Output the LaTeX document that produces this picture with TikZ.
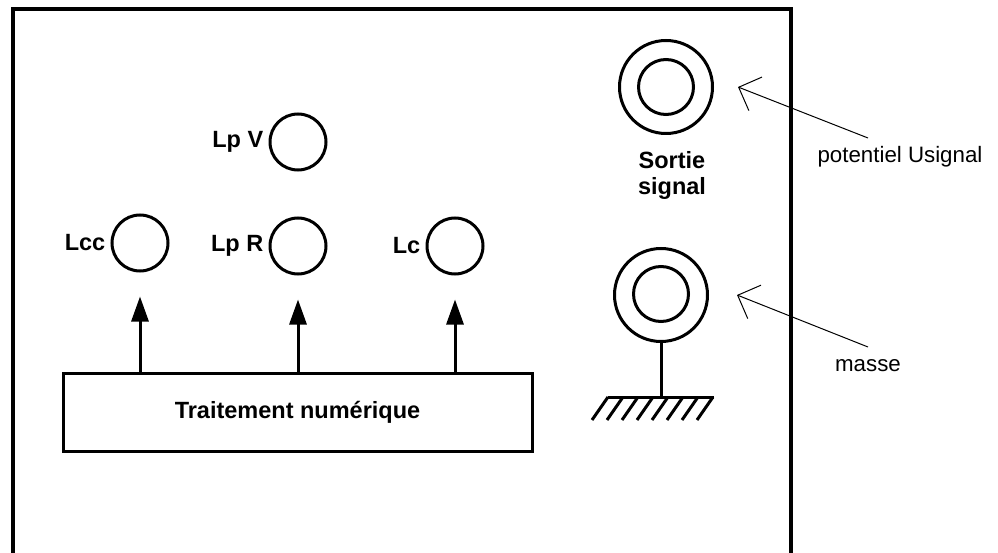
\documentclass[tikz,border=0pt]{standalone}
\usepackage{fontspec}
\setmainfont{Liberation Sans}
\usetikzlibrary{arrows.meta}
\begin{document}
\begin{tikzpicture}[x=1pt,y=-1pt,
  lamp/.style={circle,draw,line width=3pt,minimum size=56pt,inner sep=0pt},
  jackout/.style={circle,draw,line width=3pt,minimum size=93pt,inner sep=0pt},
  jackin/.style={circle,draw,line width=3pt,minimum size=55pt,inner sep=0pt},
  lbl/.style={font=\fontsize{23.5}{26}\selectfont\bfseries,inner sep=0pt},
  note/.style={font=\fontsize{22.3}{25}\selectfont,inner sep=0pt},
  sigarrow/.style={line width=3pt,-{Triangle[length=25pt,width=17pt]}},
  notearrow/.style={line width=1pt,-{Straight Barb[length=18pt,width=36pt,line width=1pt]}},
  thickline/.style={line width=3pt}
]
\useasboundingbox (0,0) rectangle (998,553);
% frame
\draw[line width=4pt] (13,553) -- (13,9) -- (791,9) -- (791,553);
% lamps
\node[lamp] (lpv) at (298,142) {};
\node[lamp] (lcc) at (140,243) {};
\node[lamp] (lpr) at (298,246) {};
\node[lamp] (lc) at (455,246) {};
\node[lbl,anchor=east] (tlpv) at ([xshift=-5pt]lpv.west) {Lp V};
\node[lbl,anchor=east] (tlcc) at ([xshift=-5pt]lcc.west) {Lcc};
\node[lbl,anchor=east] (tlpr) at ([xshift=-5pt]lpr.west) {Lp R};
\node[lbl,anchor=east] (tlc) at ([xshift=-5pt]lc.west) {Lc};
% processing box
\node[draw,thickline,minimum width=469pt,minimum height=78pt,inner sep=0pt,lbl] (box) at (297.5,412) {Traitement numérique};
\draw[sigarrow] (box.north -| lcc.south) -- ([yshift=-24pt]lcc.south);
\draw[sigarrow] (box.north -| lpr.south) -- ([yshift=-24pt]lpr.south);
\draw[sigarrow] (box.north -| lc.south) -- ([yshift=-24pt]lc.south);
% signal output jack
\node[jackout] (j1) at (666,87) {};
\node[jackin] (j1i) at (666,87) {};
\node[lbl,align=center] (sortie) at (672,175) {Sortie\\signal};
% ground jack
\node[jackout] (j2) at (661,295) {};
\node[jackin] (j2i) at (661,294) {};
\coordinate (gnd) at (661,397);
\draw[thickline] (j2.south) -- (gnd);
\draw[thickline] (608,397) -- (714,397);
\foreach \k in {0,...,7}{
  \draw[thickline] (608+15*\k,397) -- (592+15*\k,420);
}
% annotations
\node[note] (pot) at (900,157) {potentiel Usignal};
\coordinate (potend) at (868,138);
\draw[notearrow] (potend) -- ([xshift=24pt]j1.east);
\node[note] (masse) at (868,366) {masse};
\coordinate (masend) at (868,347);
\draw[notearrow] (masend) -- ([xshift=28pt]j2.east);
\end{tikzpicture}
\end{document}
